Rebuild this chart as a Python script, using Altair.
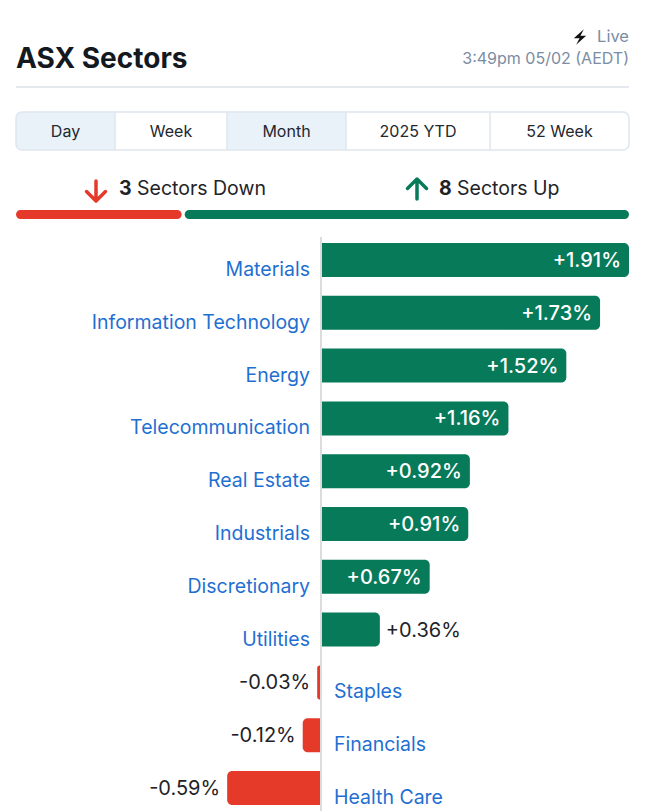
import altair as alt
import pandas as pd

# ---- data ----
sectors = ["Materials", "Information Technology", "Energy", "Telecommunication",
           "Real Estate", "Industrials", "Discretionary", "Utilities",
           "Staples", "Financials", "Health Care"]
changes = [1.91, 1.73, 1.52, 1.16, 0.92, 0.91, 0.67, 0.36, -0.03, -0.12, -0.59]
tabs = ["Day", "Week", "Month", "2025 YTD", "52 Week"]
title_text = "ASX Sectors"
live_text = "Live"
time_text = "3:49pm 05/02 (AEDT)"

n_total = len(changes)
n_down = sum(1 for v in changes if v < 0)
n_up = n_total - n_down

df = pd.DataFrame({"sector": sectors, "value": changes})
prog = pd.DataFrame({"start": [0, n_down], "end": [n_down, n_total], "kind": ["down", "up"]})

FONT = "Inter"
GREEN = "#077a5a"
RED = "#e5392a"
BLUE = "#1f6fd1"
DARK = "#1f2328"
GRAY = "#7b8da2"
LINE = "#dfe6ee"
TABBG = "#e9f1f9"

W, H = 634, 803
xscale = alt.Scale(domain=[-1.9536, 1.91], range=[0, 621], nice=False, zero=False)
yscale = alt.Scale(domain=sectors, range=[225.6, 806.4], paddingInner=0.356, paddingOuter=0.178)

dummy = alt.Data(values=[{}])

BOLT = "M0.5,-1 L-0.8,0.15 L-0.05,0.15 L-0.5,1 L0.8,-0.15 L0.05,-0.15 Z"
DOWN_ARROW = "M0,-1 L0,0.95 M-0.95,0.05 L0,1 L0.95,0.05"
UP_ARROW = "M0,1 L0,-0.95 M-0.95,-0.05 L0,-1 L0.95,-0.05"


def txt(text, x, y, size, color, weight=400, align="left", baseline="middle", font=FONT):
    return alt.Chart(dummy).mark_text(
        text=text, font=font, fontSize=size, color=color, fontWeight=weight,
        align=align, baseline=baseline
    ).encode(x=alt.value(x), y=alt.value(y))


def glyph(path, x, y, size, color, filled=True, sw=0):
    if filled:
        m = alt.Chart(dummy).mark_point(shape=path, filled=True, fill=color, strokeWidth=0,
                                        opacity=1, size=size)
    else:
        m = alt.Chart(dummy).mark_point(shape=path, filled=False, stroke=color, strokeWidth=sw,
                                        strokeCap="round", strokeJoin="round", opacity=1, size=size)
    return m.encode(x=alt.value(x), y=alt.value(y))


layers = []

# ---- header ----
layers.append(txt(title_text, 8, 60, 28, "#14181f", 700, baseline="alphabetic"))
layers.append(glyph(BOLT, 572, 29, 240, "#111111"))
layers.append(txt(live_text, 621, 29, 16.5, GRAY, 400, align="right"))
layers.append(txt(time_text, 621, 51, 16, GRAY, 400, align="right"))
layers.append(alt.Chart(dummy).mark_rule(color="#e4e9ef", strokeWidth=2).encode(
    x=alt.value(8), x2=alt.value(621), y=alt.value(79)))

# ---- tabs ----
bounds = [8, 107, 219, 338, 482, 621]
active = {0, 2}
for i, t in enumerate(tabs):
    x0, x1 = bounds[i], bounds[i + 1]
    if i in active:
        kw = {}
        if i == 0:
            kw = dict(cornerRadiusTopLeft=6, cornerRadiusBottomLeft=6)
        layers.append(alt.Chart(dummy).mark_rect(color=TABBG, **kw).encode(
            x=alt.value(x0), x2=alt.value(x1), y=alt.value(104), y2=alt.value(142)))
for b in bounds[1:-1]:
    layers.append(alt.Chart(dummy).mark_rule(color=LINE, strokeWidth=1.5).encode(
        x=alt.value(b), y=alt.value(104), y2=alt.value(142)))
layers.append(alt.Chart(dummy).mark_rect(fill=None, fillOpacity=0, stroke=LINE, strokeWidth=1.5,
                                         cornerRadius=6).encode(
    x=alt.value(8), x2=alt.value(621), y=alt.value(104), y2=alt.value(142)))
for i, t in enumerate(tabs):
    cx = (bounds[i] + bounds[i + 1]) / 2
    layers.append(txt(t, cx, 124, 16, "#23272e", 400, align="center"))

# ---- summary ----
layers.append(glyph(DOWN_ARROW, 88, 183, 400, RED, filled=False, sw=3.5))
layers.append(txt(str(n_down), 111, 181, 19.5, DARK, 700))
layers.append(txt("Sectors Down", 129, 181, 19.5, DARK, 400))
layers.append(glyph(UP_ARROW, 409, 181, 400, GREEN, filled=False, sw=3.5))
layers.append(txt(str(n_up), 431, 181, 19.5, DARK, 700))
layers.append(txt("Sectors Up", 449, 181, 19.5, DARK, 400))

pscale = alt.Scale(domain=[0, n_total], range=[8, 621], nice=False, zero=False)
base_p = alt.Chart(prog)
layers.append(base_p.transform_filter("datum.kind == 'down'").mark_rect(
    color=RED, cornerRadius=4.5, x2Offset=-1.5).encode(
    x=alt.X("start:Q", scale=pscale, axis=None), x2="end:Q",
    y=alt.value(202), y2=alt.value(211)))
layers.append(base_p.transform_filter("datum.kind == 'up'").mark_rect(
    color=GREEN, cornerRadius=4.5, xOffset=1.5).encode(
    x=alt.X("start:Q", scale=pscale, axis=None), x2="end:Q",
    y=alt.value(202), y2=alt.value(211)))

# ---- bars ----
base = alt.Chart(df).transform_calculate(
    zero="0",
    label="(datum.value < 0 ? '-' : '+') + format(abs(datum.value), '.2f') + '%'"
)
Y = alt.Y("sector:N", scale=yscale, axis=None, sort=sectors)

layers.append(base.transform_filter("datum.value >= 0").mark_bar(
    color=GREEN, cornerRadiusTopRight=5, cornerRadiusBottomRight=5).encode(
    x=alt.X("value:Q", scale=xscale, axis=None), x2="zero:Q", y=Y))
layers.append(base.transform_filter("datum.value < 0").mark_bar(
    color=RED, cornerRadiusTopLeft=5, cornerRadiusBottomLeft=5).encode(
    x=alt.X("value:Q", scale=xscale, axis=None), x2="zero:Q", y=Y))

# zero line
layers.append(base.mark_rule(color="#dcdcdc", strokeWidth=1.5, xOffset=-1).encode(
    x=alt.X("zero:Q", scale=xscale, axis=None), y=alt.value(229), y2=alt.value(803)))

# value labels
layers.append(base.transform_filter("datum.value >= 0.5").mark_text(
    font=FONT, fontSize=20, fontWeight=500, color="white", align="right", dx=-8, dy=1).encode(
    x=alt.X("value:Q", scale=xscale, axis=None), y=Y, text="label:N"))
layers.append(base.transform_filter("datum.value >= 0 && datum.value < 0.5").mark_text(
    font=FONT, fontSize=20, fontWeight=400, color=DARK, align="left", dx=6, dy=1).encode(
    x=alt.X("value:Q", scale=xscale, axis=None), y=Y, text="label:N"))
layers.append(base.transform_filter("datum.value < 0").mark_text(
    font=FONT, fontSize=20, fontWeight=400, color=DARK, align="right", dx=-7, dy=1).encode(
    x=alt.X("value:Q", scale=xscale, axis=None), y=Y, text="label:N"))

# category labels
layers.append(base.transform_filter("datum.value >= 0").mark_text(
    font=FONT, fontSize=19.5, color=BLUE, align="right", dx=-12, dy=10).encode(
    x=alt.X("zero:Q", scale=xscale, axis=None), y=Y, text="sector:N"))
layers.append(base.transform_filter("datum.value < 0").mark_text(
    font=FONT, fontSize=19.5, color=BLUE, align="left", dx=12, dy=10).encode(
    x=alt.X("zero:Q", scale=xscale, axis=None), y=Y, text="sector:N"))

chart = alt.layer(*layers).resolve_scale(x="independent", y="independent").properties(
    width=W, height=H, padding=0,
    autosize=alt.AutoSizeParams(type="none"),
    background="white",
).configure_view(stroke=None)

chart.save("out.html", embed_options={"renderer": "svg", "actions": False})
